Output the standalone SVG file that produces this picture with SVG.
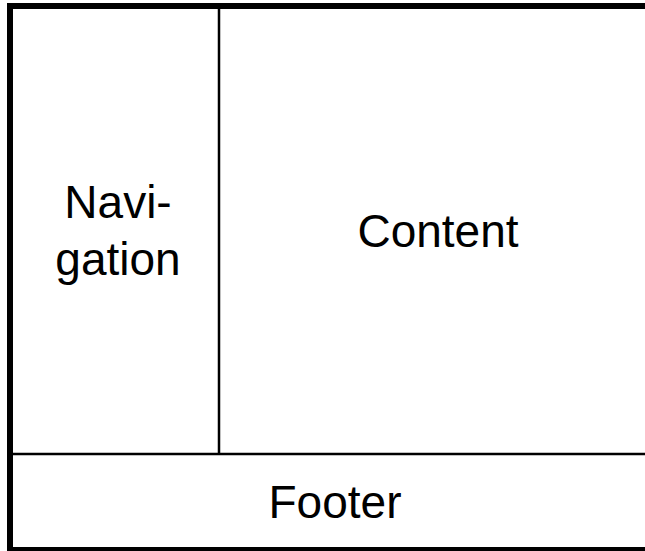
<svg xmlns="http://www.w3.org/2000/svg" width="645" height="551" viewBox="0 0 645 551">
<style>
.t{font-family:"Liberation Sans",Arial,sans-serif;font-size:46px;fill:#000;text-anchor:middle}
.frame{fill:#fff;stroke:#000;stroke-width:6}
.div{stroke:#000;stroke-width:2.5;fill:none}
</style>
<rect class="frame" x="10" y="6" width="650" height="544"/>
<g id="connectors">
<line class="div" x1="219" y1="9" x2="219" y2="454"/>
<line class="div" x1="13" y1="454" x2="660" y2="454"/>
</g>
<g id="navigation">
<text class="t" x="118" y="218">Navi-</text>
<text class="t" x="118" y="275">gation</text>
</g>
<g id="content">
<text class="t" x="438" y="247">Content</text>
</g>
<g id="footer">
<text class="t" x="335" y="518">Footer</text>
</g>
</svg>
